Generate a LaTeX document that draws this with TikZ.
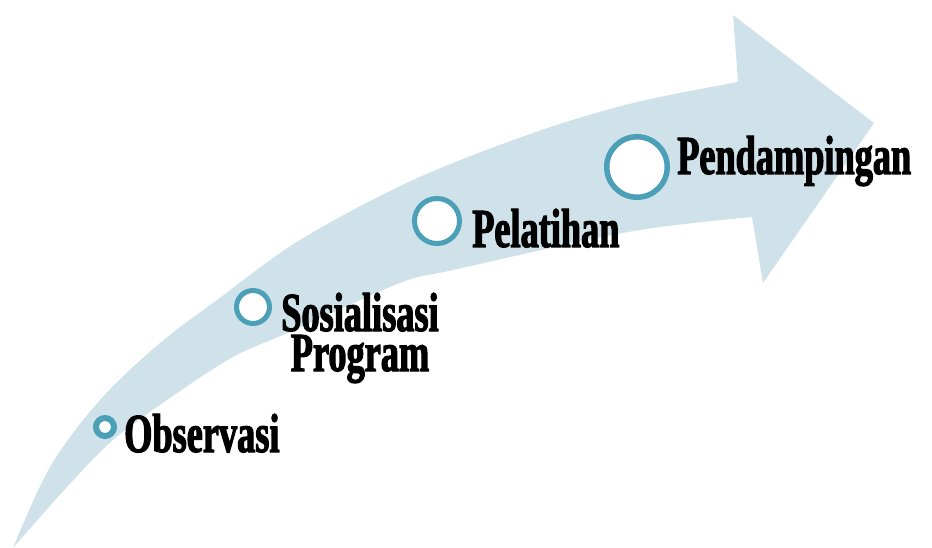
\documentclass[tikz,border=0pt]{standalone}
\usepackage{fontspec}
\newfontfamily\lblfont[FakeStretch=0.66,FakeBold=2]{Liberation Serif Bold}
\definecolor{arrowfill}{RGB}{207,226,234}
\definecolor{ringcol}{RGB}{75,160,183}
\begin{document}
\begin{tikzpicture}[x=1pt,y=-1pt,
  ring/.style={circle, draw=ringcol, fill=white, inner sep=0pt},
  lbl/.style={inner sep=0pt, font=\lblfont\fontsize{55}{40}\selectfont, text=black}]
\useasboundingbox (0,0) rectangle (932,548);
% curved arrow
\fill[arrowfill]
  plot[smooth, tension=0.55] coordinates {(13,548) (50,467) (100,400) (160,343) (217,300) (300,240) (413,180) (533,133) (633,103) (738,82)}
  -- (733,15) -- (874,123) -- (763,283) -- (752,217)
  -- plot[smooth, tension=0.55] coordinates {(752,217) (628,232) (453,270) (400,283) (290,332) (233,357) (167,400) (113,440) (67,487) (13,548)}
  -- cycle;
% markers
\node[ring, line width=6pt, minimum size=18pt] (c1) at (105,427) {};
\node[ring, line width=5pt, minimum size=33pt] (c2) at (253,307) {};
\node[ring, line width=5pt, minimum size=45pt] (c3) at (437,221) {};
\node[ring, line width=5.5pt, minimum size=60.5pt] (c4) at (637,167) {};
% labels
\node[lbl, anchor=base west] (t1) at (124,452) {Observasi};
\node[lbl, anchor=base, align=center] (t2) at (360,371) {Sosialisasi\\Program};
\node[lbl, anchor=base west] (t3) at (472,247) {Pelatihan};
\node[lbl, anchor=base west] (t4) at (677,174) {Pendampingan};
\end{tikzpicture}
\end{document}
